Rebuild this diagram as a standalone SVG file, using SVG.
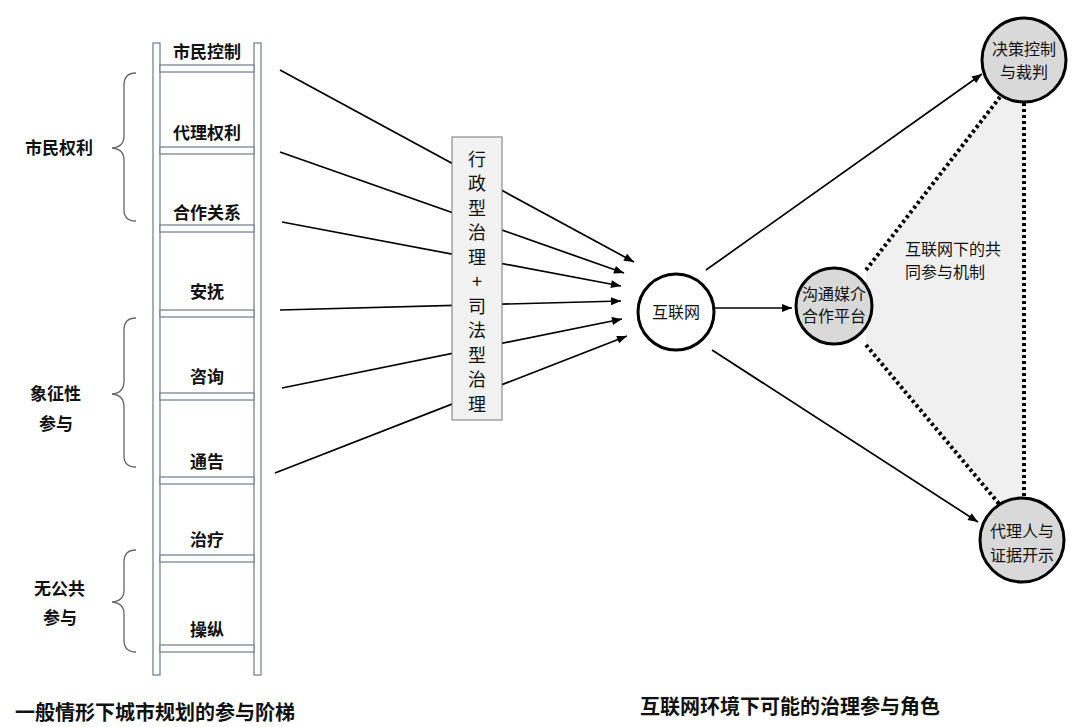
<svg xmlns="http://www.w3.org/2000/svg" width="1080" height="727" viewBox="0 0 1080 727">
<style>
text{font-family:"Noto Sans CJK SC","Liberation Sans",sans-serif;fill:#111}
.b{font-weight:bold;font-size:17px}
.n{font-size:16px}
.cap{font-weight:bold;font-size:20px}
.v{font-size:18px}
.rail{fill:#fff;stroke:#7a8494;stroke-width:1.3}
.br{fill:none;stroke:#666;stroke-width:1.3}
.ar{stroke:#000;stroke-width:1.7;fill:none;marker-end:url(#a)}
.dot{stroke:#000;stroke-width:4;stroke-dasharray:3 3;fill:none}
.c{stroke:#000;stroke-width:3}
</style>
<defs><marker id="a" viewBox="0 0 10 10" refX="10" refY="5" markerWidth="11" markerHeight="10" markerUnits="userSpaceOnUse" orient="auto"><path d="M0,1 L10,5 L0,9 z" fill="#000"/></marker></defs>
<g id="ladder">
<rect class="rail" x="153" y="43" width="7" height="632"/>
<rect class="rail" x="254" y="43" width="7" height="632"/>
<g class="rail">
<rect x="160" y="65" width="94" height="7"/><rect x="160" y="147" width="94" height="7"/><rect x="160" y="225" width="94" height="7"/><rect x="160" y="310" width="94" height="7"/><rect x="160" y="393" width="94" height="7"/><rect x="160" y="477" width="94" height="7"/><rect x="160" y="555" width="94" height="7"/><rect x="160" y="645" width="94" height="7"/>
</g>
<g class="b" text-anchor="middle">
<text x="207" y="58">市民控制</text><text x="207" y="139">代理权利</text><text x="207" y="219">合作关系</text><text x="207" y="298">安抚</text><text x="207" y="383">咨询</text><text x="207" y="468">通告</text><text x="207" y="546">治疗</text><text x="207" y="636">操纵</text>
</g>
</g>
<g id="groups">
<path class="br" d="M136,73 Q124,73 124,85 L124,136 Q124,147 112,148 Q124,149 124,160 L124,210 Q124,221 136,221"/>
<text class="b" x="25" y="154">市民权利</text>
<path class="br" d="M136,318 Q124,318 124,330 L124,381 Q124,393 112,394 Q124,395 124,407 L124,456 Q124,467 136,467"/>
<text class="b" x="30" y="400">象征性</text><text class="b" x="39" y="430">参与</text>
<path class="br" d="M136,550 Q124,550 124,562 L124,590 Q124,601 112,602 Q124,603 124,614 L124,640 Q124,652 136,652"/>
<text class="b" x="34" y="595">无公共</text><text class="b" x="43" y="624">参与</text>
</g>
<g id="connectors">
<line class="ar" x1="280" y1="70" x2="634" y2="262"/>
<line class="ar" x1="280" y1="152" x2="624" y2="273"/>
<line class="ar" x1="282" y1="222" x2="621" y2="286"/>
<line class="ar" x1="280" y1="310" x2="621" y2="301"/>
<line class="ar" x1="282" y1="388" x2="622" y2="319"/>
<line class="ar" x1="275" y1="473" x2="627" y2="336"/>
<line class="ar" x1="715" y1="308" x2="792" y2="308"/>
<line class="ar" x1="706" y1="270" x2="982" y2="74"/>
<line class="ar" x1="712" y1="350" x2="978" y2="522"/>
</g>
<g id="gov">
<rect x="452" y="137" width="50" height="283" fill="#f2f2f2" stroke="#777" stroke-width="1"/>
<g class="v" text-anchor="middle">
<text x="477" y="166">行</text><text x="477" y="190">政</text><text x="477" y="215">型</text><text x="477" y="239">治</text><text x="477" y="264">理</text><text x="477" y="288">+</text><text x="477" y="313">司</text><text x="477" y="337">法</text><text x="477" y="362">型</text><text x="477" y="386">治</text><text x="477" y="411">理</text>
</g>
</g>
<g id="mechanism">
<polygon points="866,270 1000,97 1024,102 1024,498 1000,505 866,345" fill="#f0f0f0"/>
<line class="dot" x1="866" y1="270" x2="1000" y2="97"/>
<line class="dot" x1="1024" y1="103" x2="1024" y2="498"/>
<line class="dot" x1="866" y1="345" x2="1000" y2="505"/>
<text class="n" x="905" y="255">互联网下的共</text><text class="n" x="905" y="278">同参与机制</text>
</g>
<g id="internet"><circle class="c" cx="676" cy="312" r="38" fill="#fff"/><text class="n" x="676" y="318" text-anchor="middle">互联网</text></g>
<g id="platform"><circle class="c" cx="834" cy="306" r="38" fill="#d9d9d9"/><text class="n" x="834" y="300" text-anchor="middle">沟通媒介</text><text class="n" x="834" y="322" text-anchor="middle">合作平台</text></g>
<g id="decision"><circle class="c" cx="1024" cy="60" r="42" fill="#d9d9d9"/><text class="n" x="1024" y="55" text-anchor="middle">决策控制</text><text class="n" x="1024" y="78" text-anchor="middle">与裁判</text></g>
<g id="agent"><circle class="c" cx="1022" cy="540" r="42" fill="#d9d9d9"/><text class="n" x="1022" y="537" text-anchor="middle">代理人与</text><text class="n" x="1022" y="561" text-anchor="middle">证据开示</text></g>
<text class="cap" x="15" y="720">一般情形下城市规划的参与阶梯</text>
<text class="cap" x="640" y="714">互联网环境下可能的治理参与角色</text>
</svg>
